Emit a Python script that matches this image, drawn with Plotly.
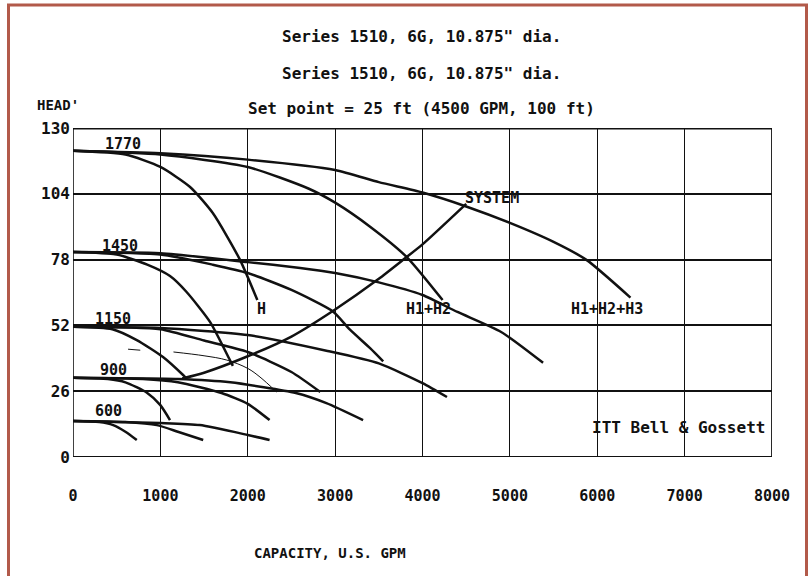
import plotly.graph_objects as go

# ---------------- data ----------------
x_ticks = [0, 1000, 2000, 3000, 4000, 5000, 6000, 7000, 8000]
y_ticks = [0, 26, 52, 78, 104, 130]

# 1770 rpm
q_1770_h = [0, 600, 1000, 1340, 1600, 1910, 2110]
h_1770_h = [121, 119.5, 114.6, 106.7, 96.4, 78, 62]
q_1770_h2 = [0, 1000, 2000, 2700, 3000, 3400, 3820, 4230]
h_1770_h2 = [121, 119.5, 114.6, 106, 100.5, 91, 79, 62]
q_1770_h3 = [0, 1000, 2000, 3000, 3500, 4000, 4500, 5000, 5500, 5880, 6380]
h_1770_h3 = [121, 120, 117.5, 113.4, 108.6, 104.5, 99, 92.5, 85, 77.8, 63]

# 1450 rpm
q_1450_h = [0, 500, 850, 1110, 1300, 1570, 1800, 1830]
h_1450_h = [81, 80, 76, 71.5, 65.2, 53.3, 38, 36]
q_1450_h2 = [0, 1000, 1600, 2000, 2500, 2975, 3170, 3400, 3550]
h_1450_h2 = [81, 80, 76, 72.7, 66, 57.5, 50.3, 43, 37.8]
q_1450_h3 = [0, 1000, 2000, 2600, 3000, 3500, 4000, 4400, 4900, 5380]
h_1450_h3 = [81, 80.5, 77, 74.7, 72.7, 69, 64, 57.3, 49.4, 37.2]

# 1150 rpm
q_1150_h = [0, 450, 730, 1030, 1260, 1300]
h_1150_h = [51.5, 50.5, 46.2, 39.5, 32.4, 31]
q_1150_h2 = [0, 1000, 1500, 2000, 2500, 2830]
h_1150_h2 = [51.5, 50.5, 46, 41.5, 33.6, 25.7]
q_1150_h3 = [0, 1000, 2000, 2900, 3500, 4000, 4280]
h_1150_h3 = [51.5, 51, 48.2, 42, 37, 29.2, 23.7]

# 900 rpm
q_900_h = [0, 400, 600, 850, 1000, 1110]
h_900_h = [31.3, 30.8, 29.5, 25.3, 20.5, 14.6]
q_900_h2 = [0, 800, 1200, 1700, 2000, 2250]
h_900_h2 = [31.3, 30.8, 29.5, 25.3, 21, 14.6]
q_900_h3 = [0, 1200, 1800, 2550, 2900, 3320]
h_900_h3 = [31.3, 30.8, 29.5, 25.3, 21.3, 14.6]

# 600 rpm
q_600_h = [0, 300, 460, 600, 730]
h_600_h = [14.2, 13.8, 12.6, 10, 6.7]
q_600_h2 = [0, 600, 960, 1200, 1490]
h_600_h2 = [14.2, 13.8, 12.6, 10, 6.7]
q_600_h3 = [0, 1000, 1450, 2000, 2250]
h_600_h3 = [14.2, 13.4, 12.6, 8.7, 6.7]

# system curve
q_system = [1250, 1500, 2000, 2500, 3000, 3500, 3800, 4000, 4500]
h_system = [31, 33.3, 39.8, 47.6, 58.3, 70.4, 78.5, 84, 100]

# faint thin curve
q_thin = [1150, 1500, 1760, 2000, 2140, 2330]
h_thin = [41.5, 40, 38.3, 35, 31.6, 25.7]
q_thin_dash = [630, 770]
h_thin_dash = [42.6, 42.2]

title_lines = ['Series 1510, 6G, 10.875" dia.',
               'Series 1510, 6G, 10.875" dia.',
               'Set point = 25 ft (4500 GPM, 100 ft)']
speed_labels = ["1770", "1450", "1150", "900", "600"]

# ---------------- figure ----------------
W, H = 808, 576
L, R, T, B = 73, 772, 128, 457   # plot area in pixels

def px(x):
    return (x - L) / (R - L)

def py(y):
    return (B - y) / (B - T)

FONT = "DejaVu Sans Mono"
BLACK = "#111111"

fig = go.Figure()

curves = [
    (q_1770_h, h_1770_h), (q_1770_h2, h_1770_h2), (q_1770_h3, h_1770_h3),
    (q_1450_h, h_1450_h), (q_1450_h2, h_1450_h2), (q_1450_h3, h_1450_h3),
    (q_1150_h, h_1150_h), (q_1150_h2, h_1150_h2), (q_1150_h3, h_1150_h3),
    (q_900_h, h_900_h), (q_900_h2, h_900_h2), (q_900_h3, h_900_h3),
    (q_600_h, h_600_h), (q_600_h2, h_600_h2), (q_600_h3, h_600_h3),
    (q_system, h_system),
]
for q, h in curves:
    fig.add_trace(go.Scatter(x=q, y=h, mode="lines",
                             line=dict(color=BLACK, width=2.5, shape="spline", smoothing=0.6),
                             hoverinfo="skip", showlegend=False))
for q, h in [(q_thin, h_thin), (q_thin_dash, h_thin_dash)]:
    fig.add_trace(go.Scatter(x=q, y=h, mode="lines",
                             line=dict(color=BLACK, width=1, shape="spline"),
                             hoverinfo="skip", showlegend=False))

ann = []
# titles
for t, yy in zip(title_lines, [37, 73, 108]):
    ann.append(dict(x=px(421), y=py(yy), xref="paper", yref="paper", text=t,
                    showarrow=False, font=dict(family=FONT, size=16, color=BLACK, weight="bold"),
                    xanchor="center", yanchor="middle"))
ann.append(dict(x=px(35), y=py(105), xref="paper", yref="paper", text="HEAD'",
                showarrow=False, font=dict(family=FONT, size=14, color=BLACK, weight="bold"),
                xanchor="left", yanchor="middle"))
ann.append(dict(x=px(330), y=py(553), xref="paper", yref="paper", text="CAPACITY, U.S. GPM",
                showarrow=False, font=dict(family=FONT, size=14, color=BLACK, weight="bold"),
                xanchor="center", yanchor="middle"))

# curve labels
lab_font = dict(family=FONT, size=15, color=BLACK, weight="bold")
for txt, xx, yy in zip(speed_labels, [343, 309, 229, 286, 229], [123.5, 83.5, 54.5, 34.5, 18]):
    ann.append(dict(x=xx, y=yy, text=txt, showarrow=False, font=lab_font,
                    xanchor="left", yanchor="middle"))
for txt, xx, yy in [("H", 2082, 58.5), ("H1+H2", 3790, 58.5), ("H1+H2+H3", 5680, 58.5),
                    ("SYSTEM", 4460, 102.5)]:
    ann.append(dict(x=xx, y=yy, text=txt, showarrow=False, font=lab_font,
                    xanchor="left", yanchor="middle"))
ann.append(dict(x=5920, y=11.5, text="ITT Bell &amp; Gossett", showarrow=False,
                font=dict(family=FONT, size=16, color=BLACK, weight="bold"),
                xanchor="left", yanchor="middle"))

shapes = []
# red page frame (top, left, right)
frame = "#b25a4a"
shapes.append(dict(type="line", xref="paper", yref="paper", x0=px(7), x1=px(808), y0=py(5), y1=py(5),
                   line=dict(color=frame, width=3)))
shapes.append(dict(type="line", xref="paper", yref="paper", x0=px(8.5), x1=px(8.5), y0=py(4), y1=py(576),
                   line=dict(color=frame, width=3)))
shapes.append(dict(type="line", xref="paper", yref="paper", x0=px(806.5), x1=px(806.5), y0=py(4), y1=py(576),
                   line=dict(color=frame, width=3)))
# plot box
shapes.append(dict(type="line", x0=0, x1=8000, y0=130, y1=130, line=dict(color=BLACK, width=3)))
shapes.append(dict(type="line", x0=0, x1=8000, y0=0, y1=0, line=dict(color=BLACK, width=2)))
shapes.append(dict(type="line", x0=0, x1=0, y0=0, y1=130, line=dict(color=BLACK, width=1.6)))
shapes.append(dict(type="line", x0=8000, x1=8000, y0=0, y1=130, line=dict(color=BLACK, width=1.8)))

fig.update_layout(
    width=W, height=H,
    margin=dict(l=L, r=W - R, t=T, b=H - B, pad=0),
    paper_bgcolor="white", plot_bgcolor="white",
    annotations=ann, shapes=shapes,
    showlegend=False,
    xaxis=dict(range=[0, 8000], tickvals=x_ticks, ticktext=[str(v) for v in x_ticks],
               showgrid=True, gridcolor=BLACK, gridwidth=1.3, zeroline=False,
               showline=False, ticks="", ticklabelstandoff=28,
               tickfont=dict(family=FONT, size=15, color=BLACK, weight="bold"), fixedrange=True),
    yaxis=dict(range=[0, 130], tickvals=y_ticks, ticktext=[str(v) for v in y_ticks],
               showgrid=True, gridcolor=BLACK, gridwidth=2.4, zeroline=False,
               showline=False, ticks="", ticklabelstandoff=2,
               tickfont=dict(family=FONT, size=16, color=BLACK, weight="bold"), fixedrange=True),
)

fig.write_html("out.html", config={"displayModeBar": False},
               post_script="document.body.style.margin='0';document.body.style.overflow='hidden';")
